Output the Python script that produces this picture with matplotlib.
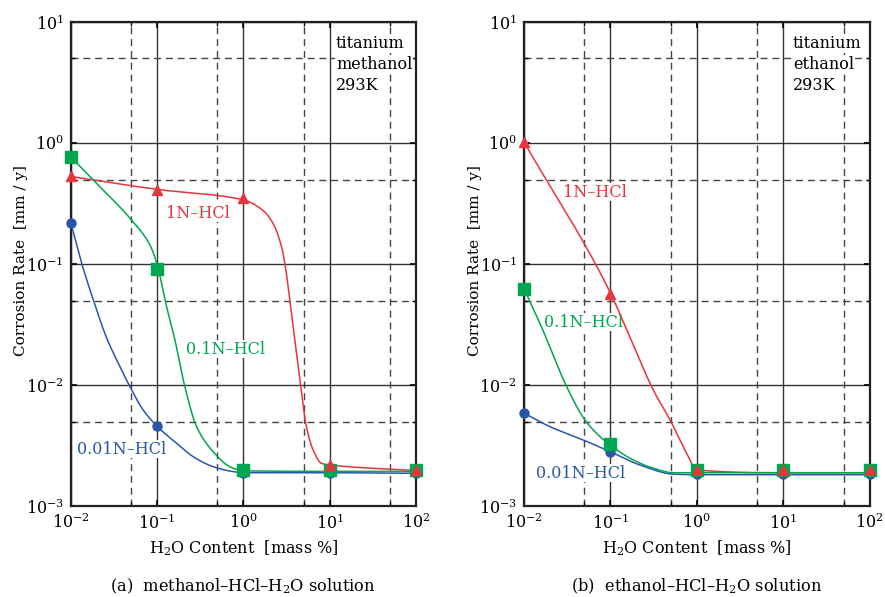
# Corrosion rate of titanium in alcohol-HCl-H2O solutions (two panels).

import numpy as np
import matplotlib
matplotlib.use('Agg')
import matplotlib.pyplot as plt
from matplotlib.ticker import FixedLocator, NullFormatter


# --------------------------- DATA ---------------------------

# Measured points (markers).
x_pts = [0.01, 0.1, 1, 10, 100]                         # [mass %] H2O content

meth_1N = [0.53, 0.41, 0.35, 0.0022, 0.002]             # [mm/y] methanol, 1N-HCl
meth_01N = [0.77, 0.092, 0.002, 0.002, 0.002]           # [mm/y] methanol, 0.1N-HCl
meth_001N = [0.22, 0.0046, 0.0019, 0.0019, 0.0019]      # [mm/y] methanol, 0.01N-HCl

eth_1N = [1.03, 0.057, 0.002, 0.002, 0.002]             # [mm/y] ethanol, 1N-HCl
eth_01N = [0.063, 0.0033, 0.002, 0.002, 0.002]          # [mm/y] ethanol, 0.1N-HCl
eth_001N = [0.0059, 0.0028, 0.00185, 0.00185, 0.00185]  # [mm/y] ethanol, 0.01N-HCl

# Fitted curves (knots).
meth_1N_cx = [0.01, 0.1, 1, 1.68, 2.21, 2.77, 3.07, 3.45, 3.94, 4.64, 5.28, 6.43, 8.04, 10, 100]
meth_1N_cy = [0.53, 0.415, 0.34, 0.279, 0.217, 0.139, 0.095, 0.0506, 0.0237, 0.00975, 0.00486, 0.00292, 0.00227, 0.0022, 0.00198]

meth_01N_cx = [0.01, 0.0183, 0.0508, 0.0828, 0.1, 0.129, 0.161, 0.21, 0.287, 0.447, 0.698, 1, 10, 100]
meth_01N_cy = [0.77, 0.494, 0.231, 0.144, 0.1, 0.0446, 0.0237, 0.00975, 0.00456, 0.00283, 0.00213, 0.00197, 0.00195, 0.00195]

meth_001N_cx = [0.01, 0.0134, 0.0183, 0.0261, 0.0356, 0.0486, 0.0692, 0.1, 0.169, 0.262, 0.447, 0.762, 1, 10, 100]
meth_001N_cy = [0.221, 0.1016, 0.0506, 0.0246, 0.0152, 0.00975, 0.00625, 0.0046, 0.00332, 0.00258, 0.00213, 0.00194, 0.0019, 0.0019, 0.00188]

eth_1N_cx = [0.01, 0.1, 0.155, 0.314, 0.491, 0.766, 1, 10, 100]
eth_1N_cy = [1.02, 0.058, 0.0286, 0.00915, 0.00517, 0.00275, 0.002, 0.0019, 0.0019]

eth_01N_cx = [0.01, 0.0153, 0.0312, 0.0508, 0.0759, 0.1, 0.1846, 0.314, 0.537, 1, 10, 100]
eth_01N_cy = [0.063, 0.0325, 0.00975, 0.00517, 0.00377, 0.0032, 0.00242, 0.00207, 0.0019, 0.0019, 0.0019, 0.0019]

eth_001N_cx = [0.01, 0.02, 0.0486, 0.1, 0.22, 0.537, 1, 10, 100]
eth_001N_cy = [0.0059, 0.00456, 0.00354, 0.00283, 0.0022, 0.00185, 0.00183, 0.00183, 0.00183]


# --------------------------- STYLE ---------------------------

RED = '#e8343c'
GREEN = '#00a650'
BLUE = '#2857a8'

plt.rcParams['font.family'] = ['DejaVu Serif']
plt.rcParams['mathtext.fontset'] = 'dejavuserif'
FS = 11.5
WHITE_BOX = dict(facecolor='white', edgecolor='none', pad=0.6)


# --------------------------- HELPERS ---------------------------

# Monotone cubic (PCHIP) through the knots in log-log space, for a smooth line.
def smooth_loglog(xk, yk, n=400):
    lx = np.log10(np.asarray(xk, float)); ly = np.log10(np.asarray(yk, float))
    h = np.diff(lx); d = np.diff(ly)/h
    m = np.zeros_like(ly)
    m[0] = d[0]; m[-1] = d[-1]
    for k in range(1, len(lx) - 1):
        if d[k-1]*d[k] > 0:
            w1 = 2*h[k] + h[k-1]; w2 = h[k] + 2*h[k-1]
            m[k] = (w1 + w2)/(w1/d[k-1] + w2/d[k])
    xs = np.linspace(lx[0], lx[-1], n)
    idx = np.clip(np.searchsorted(lx, xs) - 1, 0, len(h) - 1)
    t = (xs - lx[idx])/h[idx]
    h00 = 2*t**3 - 3*t**2 + 1; h10 = t**3 - 2*t**2 + t
    h01 = -2*t**3 + 3*t**2; h11 = t**3 - t**2
    ys = h00*ly[idx] + h10*h[idx]*m[idx] + h01*ly[idx+1] + h11*h[idx]*m[idx+1]
    return 10**xs, 10**ys


def setup_axes(ax):
    ax.set_xscale('log'); ax.set_yscale('log')
    ax.set_xlim(1e-2, 1e2); ax.set_ylim(1e-3, 1e1)
    ax.xaxis.set_minor_locator(FixedLocator([0.05, 0.5, 5, 50]))
    ax.yaxis.set_minor_locator(FixedLocator([0.005, 0.05, 0.5, 5]))
    ax.xaxis.set_minor_formatter(NullFormatter()); ax.yaxis.set_minor_formatter(NullFormatter())
    ax.grid(which='major', color='#333333', lw=1.0, ls='-')
    ax.grid(which='minor', color='#444444', lw=1.0, ls=(0, (5, 3.5)))
    ax.set_axisbelow(True)
    ax.tick_params(which='major', direction='in', length=4, width=1.2, top=True, right=True, labelsize=FS, pad=5)
    ax.tick_params(which='minor', direction='in', length=3, width=1.0, top=True, right=True)
    for s in ax.spines.values():
        s.set_linewidth(1.6); s.set_color('#222222')
    ax.set_xlabel(r'H$_2$O Content  [mass %]', fontsize=FS, labelpad=4)
    ax.set_ylabel(r'Corrosion Rate  [mm / y]', fontsize=11)
    ax.yaxis.set_label_coords(-0.123, 0.508)


def draw_series(ax, c1, c01, c001, m1, m01, m001):
    ax.plot(*smooth_loglog(*c001), color=BLUE, lw=1.1, zorder=3)
    ax.plot(*smooth_loglog(*c1), color=RED, lw=1.1, zorder=4)
    ax.plot(*smooth_loglog(*c01), color=GREEN, lw=1.1, zorder=5)
    ax.plot(x_pts, m001, ls='none', marker='o', ms=6.5, color=BLUE, zorder=6, clip_on=False)
    ax.plot(x_pts, m01, ls='none', marker='s', ms=8, color=GREEN, zorder=7, clip_on=False)
    ax.plot(x_pts, m1, ls='none', marker='^', ms=7.5, color=RED, zorder=8, clip_on=False)


def info_text(ax, x, lines):
    for i, s in enumerate(lines):
        ax.text(x, 0.956 - i*0.0435, s, transform=ax.transAxes, fontsize=FS,
                va='center', ha='left', bbox=WHITE_BOX, zorder=2.5)


def curve_label(ax, x, y, s, color):
    ax.text(x, y, s, color=color, fontsize=FS, ha='left', va='center', bbox=WHITE_BOX, zorder=2.5)


# --------------------------- PLOT ---------------------------

fig = plt.figure(figsize=(8.85, 5.97), dpi=100)
ax1 = fig.add_axes([0.0799, 0.1516, 0.3902, 0.8116])
ax2 = fig.add_axes([0.5921, 0.1516, 0.3904, 0.8116])

# (a) methanol
setup_axes(ax1)
draw_series(ax1, (meth_1N_cx, meth_1N_cy), (meth_01N_cx, meth_01N_cy), (meth_001N_cx, meth_001N_cy),
            meth_1N, meth_01N, meth_001N)
info_text(ax1, 0.768, ['titanium', 'methanol', '293K'])
curve_label(ax1, 0.127, 0.264, '1N–HCl', RED)
curve_label(ax1, 0.217, 0.0199, '0.1N–HCl', GREEN)
curve_label(ax1, 0.0119, 0.00298, '0.01N–HCl', BLUE)
fig.text(0.2750, 0.018, r'(a)  methanol–HCl–H$_2$O solution', fontsize=11.7, ha='center', va='center')

# (b) ethanol
setup_axes(ax2)
draw_series(ax2, (eth_1N_cx, eth_1N_cy), (eth_01N_cx, eth_01N_cy), (eth_001N_cx, eth_001N_cy),
            eth_1N, eth_01N, eth_001N)
info_text(ax2, 0.778, ['titanium', 'ethanol', '293K'])
curve_label(ax2, 0.028, 0.394, '1N–HCl', RED)
curve_label(ax2, 0.0171, 0.0333, '0.1N–HCl', GREEN)
curve_label(ax2, 0.01377, 0.00189, '0.01N–HCl', BLUE)
fig.text(0.7873, 0.018, r'(b)  ethanol–HCl–H$_2$O solution', fontsize=11.7, ha='center', va='center')

fig.savefig('out.png', dpi=100)
